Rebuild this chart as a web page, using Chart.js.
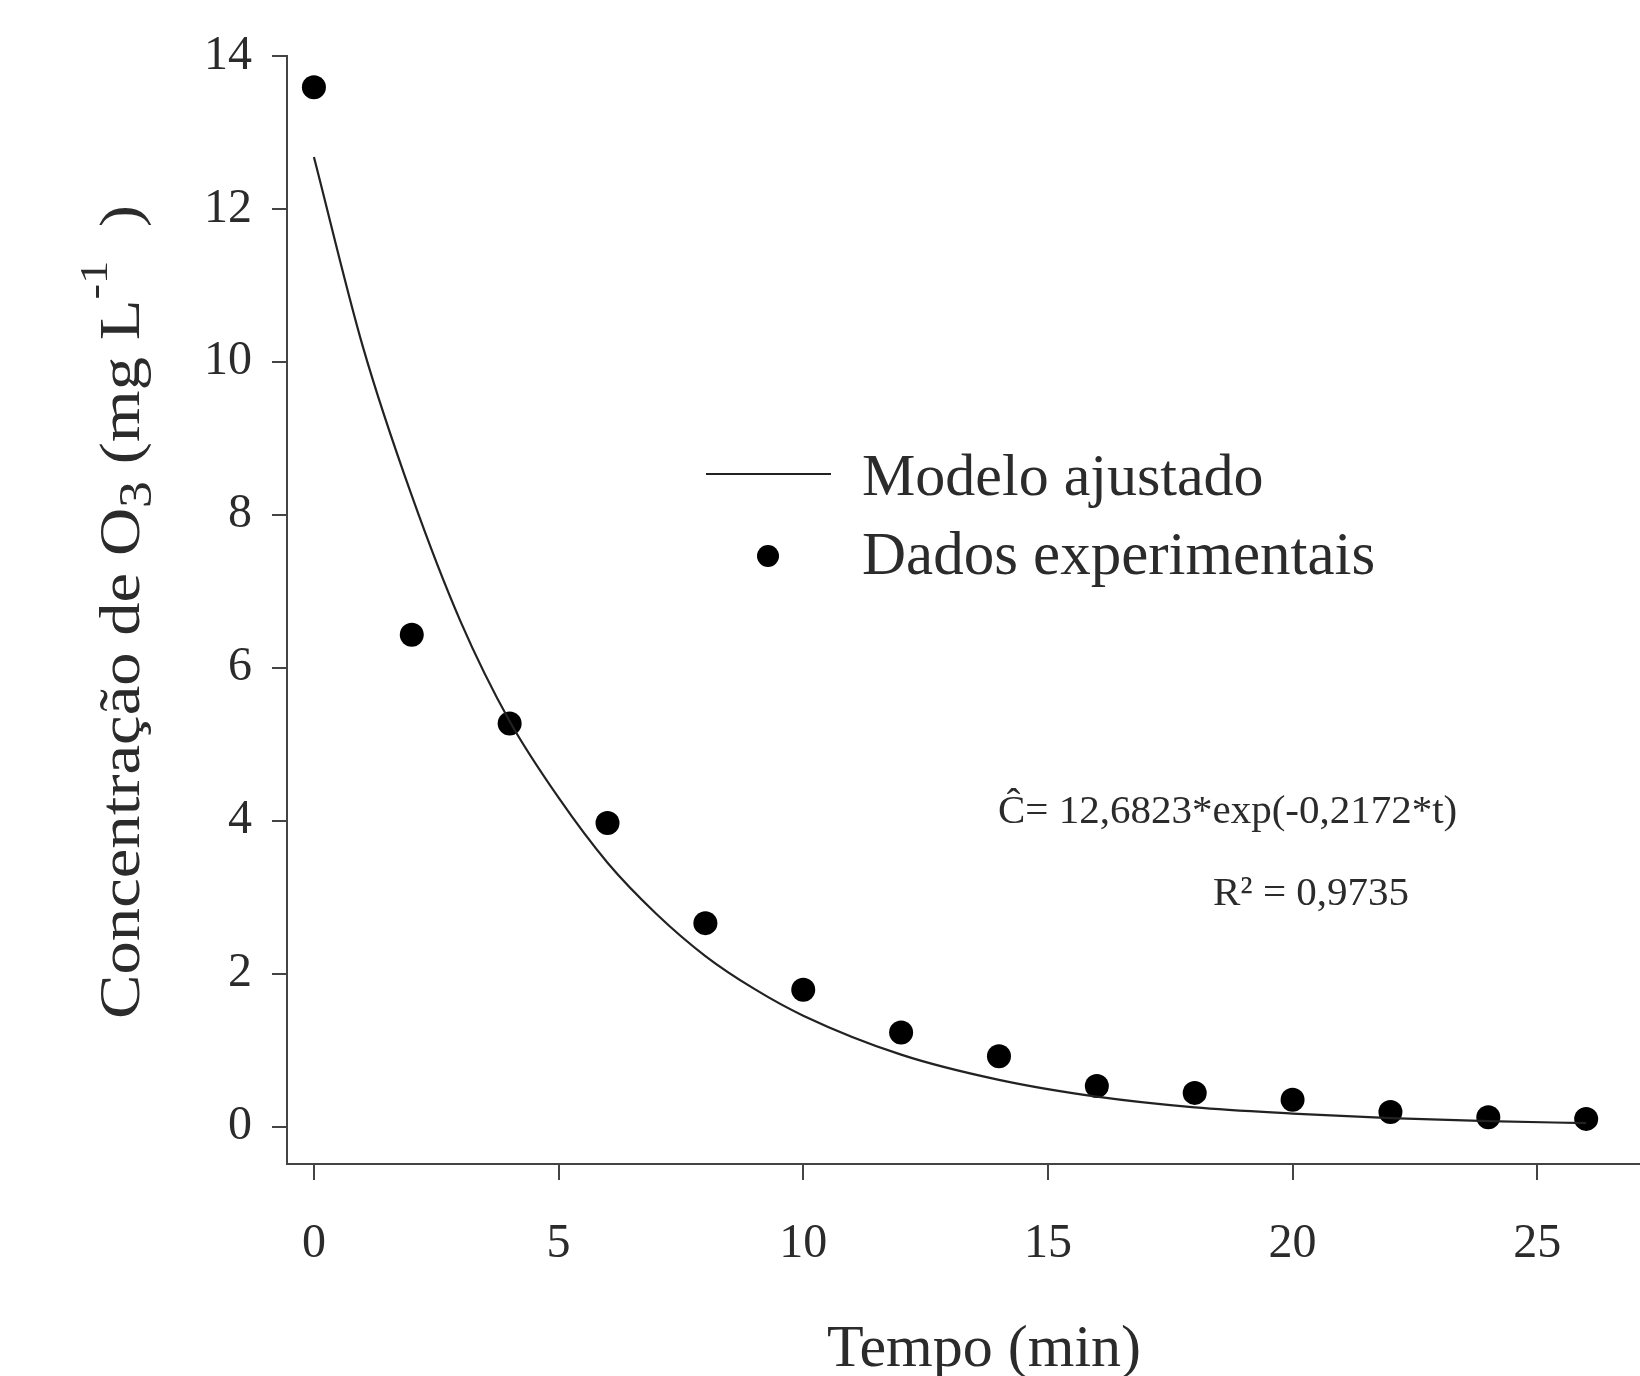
<!DOCTYPE html>
<html>
<head>
<meta charset="utf-8">
<script src="https://cdn.jsdelivr.net/npm/chart.js@4.4.0/dist/chart.umd.min.js"></script>
<style>
  html, body { margin: 0; padding: 0; background: #fff; }
  #wrap { width: 1640px; height: 1376px; }
</style>
</head>
<body>
<div id="wrap"><canvas id="chart"></canvas></div>
<script>
// experimental readings: Tempo (min) vs O3 concentration (mg/L)
const times = [0, 2, 4, 6, 8, 10, 12, 14, 16, 18, 20, 22, 24, 26];
const measured = [13.59, 6.43, 5.27, 3.97, 2.66, 1.79, 1.23, 0.92, 0.53, 0.44, 0.35, 0.19, 0.12, 0.10];

// fitted curve
const modelTimes = [0, 1, 2, 3, 4, 5, 6, 7, 8, 9, 10, 12, 14, 16, 18, 20, 22, 24, 26];
const modelValues = [12.68, 10.2, 8.25, 6.6, 5.3, 4.3, 3.45, 2.78, 2.23, 1.8, 1.45, 0.94, 0.61, 0.39, 0.25, 0.17, 0.11, 0.07, 0.045];

const xTicks = [0, 5, 10, 15, 20, 25];
const yTicks = [0, 2, 4, 6, 8, 10, 12, 14];

const equationText = 'Ĉ= 12,6823*exp(-0,2172*t)';
const r2Text = 'R² = 0,9735';
const legendLabels = ['Modelo ajustado', 'Dados experimentais'];

const SERIF = '"Liberation Serif", "DejaVu Serif", serif';
const INK = '#2b2b2b';

const toPoints = (xs, ys) => xs.map((x, i) => ({ x: x, y: ys[i] }));

// axis titles, legend and the fit equation
const extrasPlugin = {
    id: 'extras',
    afterDraw(chart) {
        const ctx = chart.ctx;
        ctx.save();
        ctx.fillStyle = INK;
        ctx.textBaseline = 'alphabetic';

        // x title
        ctx.font = '60px ' + SERIF;
        ctx.textAlign = 'center';
        ctx.fillText('Tempo (min)', 984, 1366);

        // y title with sub/superscripts (stretched a bit, the original face is wider)
        const parts = [
            { t: 'Concentração de O', size: 57, dy: 0 },
            { t: '3', size: 46, dy: 12 },
            { t: ' (mg L', size: 57, dy: 0 },
            { t: '-1', size: 40, dy: -32 },
            { t: '  )', size: 57, dy: 0 }
        ];
        let total = 0;
        parts.forEach(p => {
            ctx.font = p.size + 'px ' + SERIF;
            p.w = ctx.measureText(p.t).width;
            total += p.w;
        });
        ctx.translate(139, 612);
        ctx.rotate(-Math.PI / 2);
        ctx.scale(1.17, 1);
        ctx.textAlign = 'left';
        let cx = -total / 2;
        parts.forEach(p => {
            ctx.font = p.size + 'px ' + SERIF;
            ctx.fillText(p.t, cx, p.dy);
            cx += p.w;
        });
        ctx.setTransform(1, 0, 0, 1, 0, 0);

        // legend
        const lineDs = chart.data.datasets[0];
        const dotDs = chart.data.datasets[1];
        ctx.strokeStyle = lineDs.borderColor;
        ctx.lineWidth = lineDs.borderWidth;
        ctx.beginPath();
        ctx.moveTo(706, 474);
        ctx.lineTo(831, 474);
        ctx.stroke();
        ctx.fillStyle = dotDs.backgroundColor;
        ctx.beginPath();
        ctx.arc(768, 556, 11, 0, Math.PI * 2);
        ctx.fill();
        ctx.fillStyle = INK;
        ctx.font = '60px ' + SERIF;
        ctx.fillText(legendLabels[0], 862, 495);
        ctx.font = '61px ' + SERIF;
        ctx.fillText(legendLabels[1], 862, 574);

        // equation
        ctx.font = '41px ' + SERIF;
        ctx.fillText(equationText, 998, 823);
        ctx.fillText(r2Text, 1213, 905);
        ctx.restore();
    }
};

const ctx = document.getElementById('chart').getContext('2d');
new Chart(ctx, {
    type: 'scatter',
    data: {
        datasets: [{
            label: legendLabels[0],
            data: toPoints(modelTimes, modelValues),
            showLine: true,
            cubicInterpolationMode: 'monotone',
            borderColor: '#222',
            borderWidth: 2.2,
            pointRadius: 0,
            fill: false
        }, {
            label: legendLabels[1],
            data: toPoints(times, measured),
            pointRadius: 12,
            pointHoverRadius: 12,
            backgroundColor: '#000',
            borderWidth: 0
        }]
    },
    options: {
        responsive: true,
        maintainAspectRatio: false,
        animation: false,
        layout: { padding: { top: 56, right: 0, left: 0, bottom: 0 }, autoPadding: false },
        plugins: {
            legend: { display: false },
            tooltip: { enabled: false }
        },
        scales: {
            x: {
                type: 'linear',
                min: -0.55,
                max: 27.1,
                afterBuildTicks: scale => { scale.ticks = xTicks.map(v => ({ value: v })); },
                afterFit: scale => { scale.height = 212; },
                border: { display: true, color: '#444', width: 2 },
                grid: { drawOnChartArea: false, drawTicks: true, tickLength: 16, color: '#444', lineWidth: 2 },
                ticks: { color: INK, font: { family: SERIF, size: 48 }, padding: 36, maxRotation: 0 }
            },
            y: {
                type: 'linear',
                min: -0.49,
                max: 14,
                afterBuildTicks: scale => { scale.ticks = yTicks.map(v => ({ value: v })); },
                afterFit: scale => { scale.width = 287; },
                border: { display: true, color: '#444', width: 2 },
                grid: { drawOnChartArea: false, drawTicks: true, tickLength: 15, color: '#444', lineWidth: 2 },
                ticks: { color: INK, font: { family: SERIF, size: 48 }, padding: 20 }
            }
        }
    },
    plugins: [extrasPlugin]
});
</script>
</body>
</html>
